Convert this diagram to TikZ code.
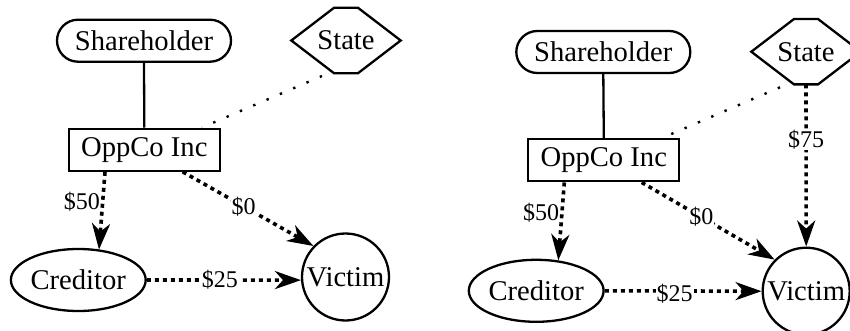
\documentclass[tikz,border=0pt]{standalone}
\usepackage{fontspec}
\setmainfont{Liberation Serif}
\usetikzlibrary{arrows.meta,shapes.geometric}
\newcommand\hexoutline[1]{%
  \draw[outline] (#1.west) -- ([xshift=-12pt]#1.north) -- ([xshift=12pt]#1.north)
    -- (#1.east) -- ([xshift=12pt]#1.south) -- ([xshift=-12pt]#1.south) -- cycle;}
\begin{document}
\begin{tikzpicture}[x=1pt,y=-1pt,
  every node/.style={font=\fontsize{28.6}{32}\selectfont},
  outline/.style={line width=2.3pt},
  box/.style={draw, outline, inner sep=0pt, minimum width=151pt, minimum height=42pt},
  pill/.style={draw, outline, inner sep=0pt, minimum width=174pt, minimum height=42pt, rounded corners=21pt},
  hexnode/.style={inner sep=0pt, minimum width=109pt, minimum height=65pt},
  oval/.style={draw, outline, ellipse, inner sep=0pt, minimum width=129pt, minimum height=62pt},
  round/.style={draw, outline, circle, inner sep=0pt, minimum size=87pt},
  tie/.style={line width=2.3pt},
  hint/.style={line width=2.4pt, dash pattern=on 2.4pt off 12.1pt},
  flow/.style={line width=3.6pt, dash pattern=on 4pt off 4pt,
    -{Stealth[length=26pt,width=18pt,inset=8pt]}},
  lbl/.style={font=\fontsize{24}{26}\selectfont, inner sep=1pt, fill=white},
]
\useasboundingbox (0,0) rectangle (850,331);

% ---- first scenario ----
\node[pill] (sh1) at (144,40.7) {Shareholder};
\node[hexnode] (st1) at (346,40.5) {State};
\hexoutline{st1}
\node[box] (op1) at (144.3,149.7) {OppCo Inc};
\node[oval] (cr1) at (78.3,280) {Creditor};
\node[round] (vi1) at (345.5,277) {Victim};

\draw[tie] (sh1.south) -- (op1.north);
\draw[hint] ([xshift=-24pt,yshift=-35.5pt]st1.center) -- ([xshift=57.7pt]op1.north);
\draw[flow] ([xshift=-39.3pt]op1.south)
  -- node[lbl, anchor=east, fill=none, pos=0.38] (l50a) {\$50}
  ([xshift=20.7pt,yshift=30.5pt]cr1.center);
\draw[flow] ([xshift=38.4pt]op1.south)
  -- node[lbl, pos=0.466] (l0a) {\$0} (vi1.136);
\draw[flow] (cr1.east)
  -- node[lbl, pos=0.474] (l25a) {\$25} (vi1.184);

% ---- second scenario ----
\node[pill] (sh2) at (603.3,52) {Shareholder};
\node[hexnode] (st2) at (806,51.7) {State};
\hexoutline{st2}
\node[box] (op2) at (603.8,160.3) {OppCo Inc};
\node[oval] (cr2) at (536.2,290.8) {Creditor};
\node[round] (vi2) at (806.2,291.2) {Victim};

\draw[tie] (sh2.south) -- (op2.north);
\draw[hint] ([xshift=-26pt,yshift=-35.6pt]st2.center) -- ([xshift=57.9pt]op2.north);
\draw[flow] (st2.south)
  -- node[lbl, pos=0.34] (l75b) {\$75} (vi2.north);
\draw[flow] ([xshift=-39.5pt]op2.south)
  -- node[lbl, anchor=east, fill=none, pos=0.395] (l50b) {\$50}
  ([xshift=22.1pt,yshift=30.5pt]cr2.center);
\draw[flow] ([xshift=37.9pt]op2.south)
  -- node[lbl, pos=0.448] (l0b) {\$0} (vi2.135);
\draw[flow] (cr2.east)
  -- node[lbl, pos=0.445, yshift=-3pt] (l25b) {\$25} (vi2.west);
\end{tikzpicture}
\end{document}
